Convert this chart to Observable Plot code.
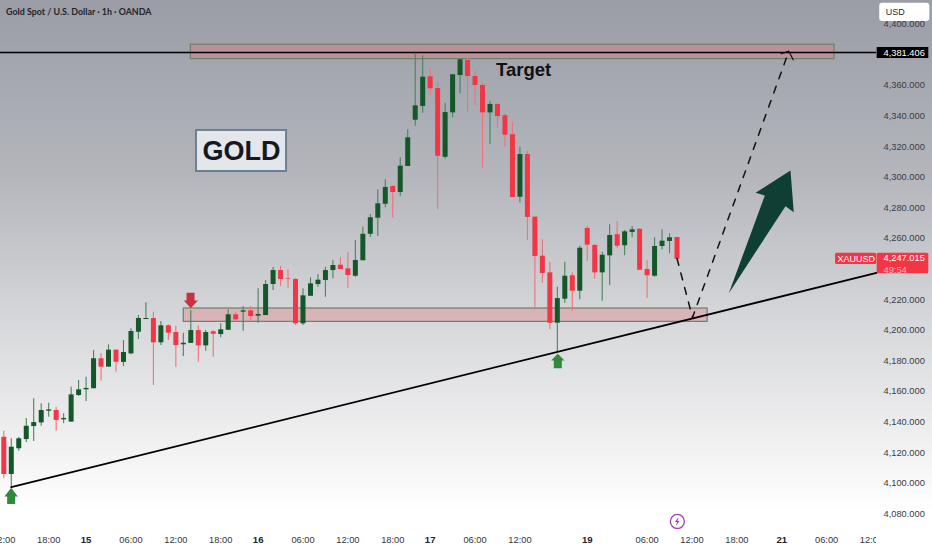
<!DOCTYPE html>
<html>
<head>
<meta charset="utf-8">
<script src="https://cdn.jsdelivr.net/npm/d3@7"></script>
<script src="https://cdn.jsdelivr.net/npm/@observablehq/plot@0.6"></script>
<style>
html,body{margin:0;padding:0;background:#fff;overflow:hidden}
svg{display:block}
</style>
</head>
<body>
<div id="chart"></div>
<script>
const openPrice = [4130.1,4105.8,4122.6,4128.6,4137.1,4139.5,4147.1,4147.6,4141.5,4140.0,4157.4,4161.1,4161.8,4181.4,4175.9,4187.0,4179.0,4184.6,4198.7,4207.0,4207.7,4191.8,4202.9,4198.5,4190.5,4191.4,4199.8,4189.8,4199.0,4197.2,4200.0,4210.1,4211.8,4212.7,4209.2,4209.6,4229.9,4239.0,4233.8,4233.2,4204.2,4222.2,4229.9,4232.5,4239.0,4242.5,4240.1,4235.3,4245.4,4262.7,4273.2,4282.3,4293.9,4290.0,4307.0,4337.2,4346.2,4365.6,4357.9,4313.0,4342.0,4366.4,4376.2,4365.8,4359.9,4342.0,4347.5,4340.1,4327.7,4286.9,4314.8,4273.9,4248.4,4237.5,4204.6,4220.3,4235.6,4225.5,4266.5,4255.4,4237.5,4248.6,4262.4,4255.2,4263.9,4266.0,4239.7,4235.3,4254.7,4258.0,4260.6];
const closePrice = [4105.8,4123.6,4129.1,4137.3,4139.7,4147.6,4148.0,4141.1,4142.4,4157.8,4161.1,4162.0,4181.4,4175.9,4187.0,4179.1,4185.5,4199.2,4207.7,4207.7,4191.8,4202.9,4198.1,4190.0,4191.5,4199.8,4189.8,4198.5,4197.4,4200.3,4210.1,4206.8,4212.7,4209.0,4210.3,4229.9,4239.0,4233.2,4233.4,4204.2,4222.5,4230.3,4232.7,4239.0,4242.3,4239.7,4235.8,4245.6,4262.7,4273.5,4282.6,4293.3,4290.0,4307.2,4325.7,4346.6,4365.3,4357.7,4313.7,4342.2,4366.9,4376.7,4365.8,4359.9,4342.0,4347.5,4339.6,4327.4,4286.7,4314.8,4273.7,4248.2,4237.1,4204.6,4220.7,4235.3,4225.5,4253.6,4255.6,4237.5,4249.0,4261.9,4254.9,4264.3,4265.6,4239.2,4235.6,4254.7,4258.2,4260.4,4246.4];
const highPrice = [4134.1,4129.1,4130.0,4142.4,4155.2,4152.0,4152.4,4149.7,4145.4,4162.8,4167.2,4169.3,4186.8,4184.6,4190.5,4187.2,4193.3,4201.0,4209.6,4217.9,4211.8,4205.7,4203.6,4202.7,4198.1,4212.9,4202.9,4199.8,4199.8,4204.2,4213.4,4211.8,4215.5,4215.5,4227.1,4232.5,4241.0,4241.8,4239.5,4233.6,4227.1,4234.3,4236.2,4241.2,4245.6,4247.3,4250.6,4258.6,4267.3,4275.6,4291.7,4298.3,4294.6,4312.7,4330.9,4381.0,4379.3,4370.8,4362.0,4348.3,4366.9,4377.1,4378.0,4369.2,4361.4,4349.6,4347.9,4341.4,4335.9,4319.6,4316.8,4273.9,4259.1,4244.5,4228.1,4244.5,4237.5,4254.9,4267.8,4256.0,4251.0,4268.9,4271.0,4265.2,4267.8,4266.3,4245.6,4260.4,4265.6,4263.0,4260.6];
const lowPrice = [4103.0,4097.5,4121.0,4126.7,4127.3,4137.3,4143.2,4134.1,4138.9,4140.0,4156.7,4153.5,4161.8,4166.7,4175.9,4172.6,4176.3,4184.0,4194.0,4207.0,4163.9,4190.0,4193.3,4175.9,4182.9,4191.4,4179.1,4186.3,4182.4,4195.1,4200.0,4205.3,4199.4,4205.9,4204.6,4209.6,4226.0,4228.6,4227.5,4203.1,4203.1,4222.2,4228.1,4221.6,4233.6,4239.7,4227.5,4234.7,4245.4,4260.6,4261.2,4280.0,4273.2,4287.6,4307.0,4333.3,4341.8,4353.3,4278.7,4311.7,4338.8,4354.5,4342.4,4346.8,4305.9,4321.3,4332.0,4319.6,4286.7,4283.3,4258.6,4215.1,4230.7,4200.3,4185.7,4217.7,4212.4,4219.9,4244.9,4233.3,4219.0,4229.2,4253.2,4248.6,4260.4,4239.2,4220.9,4234.7,4252.6,4250.0,4246.4];

const priceTicks = [4080,4100,4120,4140,4160,4180,4200,4220,4260,4280,4300,4320,4340,4360,4400];
const hourTicks = [0,6,17,23,29,40,46,52,63,69,86,92,98,110,116];
const hourLabels = ["12:00","18:00","06:00","12:00","18:00","06:00","12:00","18:00","06:00","12:00","06:00","12:00","18:00","06:00","12:00"];
const dayTicks = [11,34,57,78,104];
const dayLabels = ["15","16","17","19","21"];

const targetZone = {x1:25, x2:111.06, y1:4377.1, y2:4386.5};
const supportZone = {x1:24.06, x2:94.1, y1:4205.5, y2:4214.2};
const targetPrice = 4381.406;
const trendI = [1,116.67];
const trendP = [4097.5,4237.5];
const dashI = [90,92.07,104.95];
const dashP = [4246.9,4208.3,4382.3];
const headI = [103.93,104.95,105.53];
const headP = [4380.6,4382.3,4376.7];
const bigArrowI = [96.93,101.74,100.5,105.17,105.61,104.5];
const bigArrowP = [4224.2,4288.0,4289.8,4304.4,4277.1,4281.0];
const upArrow1I = [0.99,1.87,1.52,1.52,0.45,0.45,0.09];
const upArrow1P = [4097.1,4091.4,4091.4,4086.5,4086.5,4091.4,4091.4];
const upArrow2I = [74.06,74.96,74.6,74.6,73.53,73.53,73.18];
const upArrow2P = [4184.6,4180.3,4180.3,4175.2,4175.2,4180.3,4180.3];
const downArrowI = [25.0,25.94,25.5,25.5,24.43,24.43,24.06];
const downArrowP = [4214.4,4219.4,4219.4,4224.5,4224.5,4219.4,4219.4];
const boltI = [90.2,89.73,90,89.87,90.33,90.07];
const boltP = [4078.0,4074.8,4074.8,4072.1,4075.4,4075.4];

const bars = openPrice.map((o,i)=>({i,o,c:closePrice[i],h:highPrice[i],l:lowPrice[i],up:closePrice[i]>=o}));
const pts = (xs,ys)=>xs.map((x,k)=>({x,y:ys[k]}));
const tickFmt = (ticks,labels)=>v=>labels[ticks.indexOf(v)];
const sans = "Liberation Sans, Arial, sans-serif";
const polygon = (xs,ys,fill)=>Plot.line(pts(xs,ys).concat(pts(xs,ys).slice(0,1)),{x:"x",y:"y",fill,stroke:"none"});
const GREEN="#14582a", RED="#f23645";

const chart = Plot.plot({
  width:932, height:550,
  marginLeft:0, marginTop:0, marginBottom:0, marginRight:56,
  style:{background:"linear-gradient(180deg,#9a9da6 0%,#b4b6bc 32%,#d6d7da 58%,#f0f0f1 80%,#ffffff 93%)",fontFamily:sans,overflow:"hidden"},
  x:{domain:[-0.441,116.67],axis:null},
  y:{domain:[4056.14,4415.4],axis:null},
  marks:[
    Plot.rect([targetZone],{x1:"x1",x2:"x2",y1:"y1",y2:"y2",fill:"#e0757f",fillOpacity:0.42,stroke:"#6f7f68",strokeWidth:1.2}),
    Plot.rect([supportZone],{x1:"x1",x2:"x2",y1:"y1",y2:"y2",fill:"#e0757f",fillOpacity:0.35,stroke:"#6f7f68",strokeWidth:1.2}),
    Plot.ruleY([targetPrice],{x1:-0.441,x2:116.67,stroke:"#000",strokeWidth:1.5}),
    Plot.ruleX(bars,{x:"i",y1:"l",y2:"h",stroke:d=>d.up?"#4a8359":"#f2707c",strokeWidth:1.1}),
    Plot.ruleX(bars,{x:"i",y1:"o",y2:"c",stroke:d=>d.up?GREEN:RED,strokeWidth:5}),
    Plot.line(pts(trendI,trendP),{x:"x",y:"y",stroke:"#000",strokeWidth:1.8}),
    Plot.line(pts(dashI,dashP),{x:"x",y:"y",stroke:"#111",strokeWidth:1.5,strokeDasharray:"7 8"}),
    Plot.line(pts(headI,headP),{x:"x",y:"y",stroke:"#111",strokeWidth:1.2}),
    polygon(bigArrowI,bigArrowP,"#0f3f34"),
    polygon(upArrow1I,upArrow1P,"#2f8a3c"),
    polygon(upArrow2I,upArrow2P,"#2f8a3c"),
    polygon(downArrowI,downArrowP,"#c8313f"),
    Plot.rect([{x1:25.76,x2:37.8,y1:4303.7,y2:4330.5}],{x1:"x1",x2:"x2",y1:"y1",y2:"y2",fill:"#e3e7ec",stroke:"#6d7f95",strokeWidth:2}),
    Plot.text(["GOLD"],{x:31.78,y:4316.6,text:d=>d,fontSize:27,fontWeight:"bold",fill:"#15181f",fontFamily:sans}),
    Plot.text(["Target"],{x:69.5,y:4370,text:d=>d,fontSize:18.5,fontWeight:"bold",fill:"#111",fontFamily:sans}),
    Plot.text(["Gold Spot / U.S. Dollar · 1h · OANDA"],{x:0.3,y:4407.6,text:d=>d,textAnchor:"start",fontSize:8.9,fontWeight:700,fill:"#23252b",fontFamily:"Lato"}),
    Plot.dot([{x:90.05,y:4075.1}],{x:"x",y:"y",r:7,stroke:"#a23bb8",strokeWidth:1.3,fill:"none"}),
    polygon(boltI,boltP,"#a23bb8"),
    Plot.axisX({anchor:"bottom",ticks:hourTicks,tickFormat:tickFmt(hourTicks,hourLabels),tickSize:0,tickPadding:-14,fontSize:9.3,fill:"#33353b",clip:true,label:null,fontFamily:sans}),
    Plot.axisX({anchor:"bottom",ticks:dayTicks,tickFormat:tickFmt(dayTicks,dayLabels),tickSize:0,tickPadding:-14,fontSize:9.6,fontWeight:"bold",fill:"#22242a",clip:true,label:null,fontFamily:sans}),
    Plot.axisY({anchor:"right",ticks:priceTicks,tickFormat:d3.format(",.3f"),tickSize:0,tickPadding:7,fontSize:9.3,fill:"#3a3c44",label:null,fontFamily:sans}),
    Plot.rect([{x1:117.1,x2:123.8,y1:4401.7,y2:4413.6}],{x1:"x1",x2:"x2",y1:"y1",y2:"y2",fill:"#fff",rx:3}),
    Plot.text(["USD"],{x:117.9,y:4407.6,text:d=>d,textAnchor:"start",fontSize:9,fill:"#2a2c33",fontFamily:sans}),
    Plot.rect([{x1:116.76,x2:123.66,y1:4377.5,y2:4384.7}],{x1:"x1",x2:"x2",y1:"y1",y2:"y2",fill:"#000"}),
    Plot.text([targetPrice],{x:117.6,y:d=>d,text:d=>d3.format(",.3f")(d),textAnchor:"start",fontSize:9.3,fill:"#fff",fontFamily:sans}),
    Plot.rect([{x1:111.2,x2:116.7,y1:4243.0,y2:4250.3}],{x1:"x1",x2:"x2",y1:"y1",y2:"y2",fill:RED,rx:1.5}),
    Plot.rect([{x1:116.76,x2:123.66,y1:4236.9,y2:4250.3}],{x1:"x1",x2:"x2",y1:"y1",y2:"y2",fill:RED,rx:1.5}),
    Plot.text(["XAUUSD"],{x:113.95,y:4246.7,text:d=>d,fontSize:9,fill:"#fff",fontFamily:sans}),
    Plot.text([4247.015],{x:117.6,y:4247.0,text:d=>d3.format(",.3f")(d),textAnchor:"start",fontSize:9.3,fill:"#fff",fontFamily:sans}),
    Plot.text(["49:54"],{x:117.6,y:4239.6,text:d=>d,textAnchor:"start",fontSize:9.3,fill:"#ffb3ba",fontFamily:sans})
  ]
});
document.getElementById("chart").append(chart);
</script>
</body>
</html>
